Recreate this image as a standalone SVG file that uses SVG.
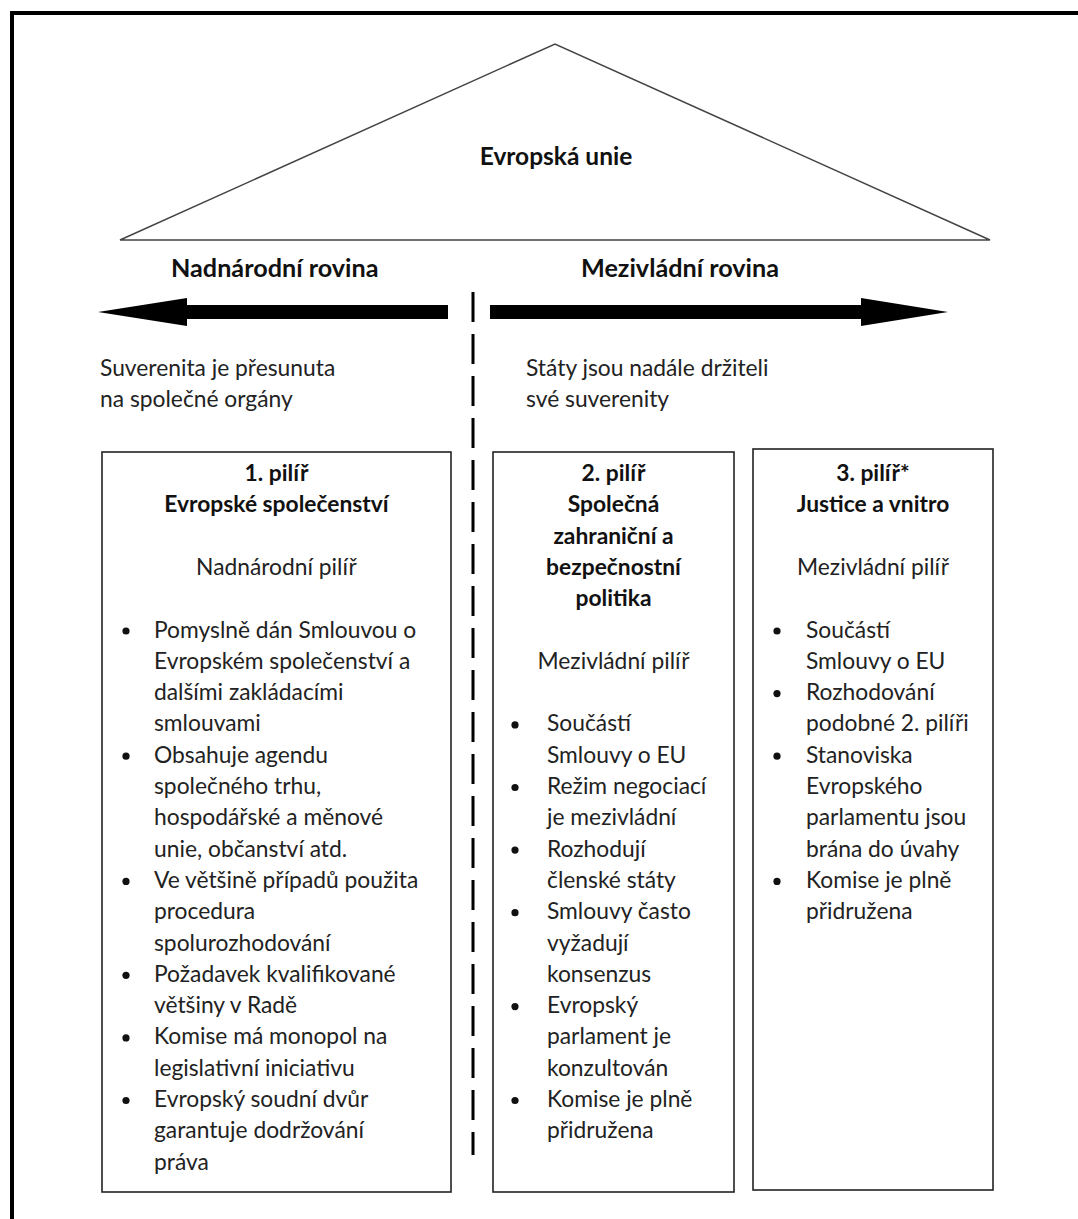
<svg xmlns="http://www.w3.org/2000/svg" width="1078" height="1219" viewBox="0 0 1078 1219">
<style>
.body{font-family:Lato,"Liberation Sans",sans-serif;font-size:22.8px;fill:#222}
.bold{font-family:Lato,"Liberation Sans",sans-serif;font-size:22.8px;font-weight:bold;fill:#111}
.lbl{font-family:Lato,"Liberation Sans",sans-serif;font-size:25.2px;font-weight:bold;fill:#111}
.lbl2{font-family:Lato,"Liberation Sans",sans-serif;font-size:24.5px;font-weight:bold;fill:#111}
.c{text-anchor:middle}
.box{fill:#fff;stroke:#222;stroke-width:1.6}
.bul{fill:#111}
</style>
<rect x="0" y="0" width="1078" height="1219" fill="#fff"/>
<rect x="12" y="13" width="1090" height="1240" fill="none" stroke="#000" stroke-width="4"/>

<g id="eu">
<polygon points="120,240 555,44 990,240" fill="#fff" stroke="#444" stroke-width="1.5"/>
<text class="lbl2 c" x="556" y="165">Evropská unie</text>
</g>

<g id="levels">
<text class="lbl" x="171" y="277">Nadnárodní rovina</text>
<text class="lbl" x="581" y="277">Mezivládní rovina</text>
<text class="body" x="100" y="376">Suverenita je přesunuta</text>
<text class="body" x="100" y="407">na společné orgány</text>
<text class="body" x="526" y="376">Státy jsou nadále držiteli</text>
<text class="body" x="526" y="407">své suverenity</text>
</g>

<g id="connectors">
<polygon points="98,312 187,298 187,305 448,305 448,319 187,319 187,326" fill="#000"/>
<polygon points="948,312 861,298 861,305 490,305 490,319 861,319 861,326" fill="#000"/>
<line x1="473" y1="292" x2="473" y2="1155" stroke="#000" stroke-width="3" stroke-dasharray="30 12"/>
</g>

<g id="pillar1">
<rect class="box" x="102" y="452" width="349" height="740"/>
<text class="bold c" x="276.5" y="481">1. pilíř</text>
<text class="bold c" x="276.5" y="512.3">Evropské společenství</text>
<text class="body c" x="276.5" y="574.9">Nadnárodní pilíř</text>
<g class="bul">
<circle cx="126" cy="631" r="3.6"/>
<circle cx="126" cy="756.2" r="3.6"/>
<circle cx="126" cy="881.4" r="3.6"/>
<circle cx="126" cy="975.3" r="3.6"/>
<circle cx="126" cy="1037.9" r="3.6"/>
<circle cx="126" cy="1100.5" r="3.6"/>
</g>
<text class="body" x="154" y="637.5">Pomyslně dán Smlouvou o</text>
<text class="body" x="154" y="668.8">Evropském společenství a</text>
<text class="body" x="154" y="700.1">dalšími zakládacími</text>
<text class="body" x="154" y="731.4">smlouvami</text>
<text class="body" x="154" y="762.7">Obsahuje agendu</text>
<text class="body" x="154" y="794">společného trhu,</text>
<text class="body" x="154" y="825.3">hospodářské a měnové</text>
<text class="body" x="154" y="856.6">unie, občanství atd.</text>
<text class="body" x="154" y="887.9">Ve většině případů použita</text>
<text class="body" x="154" y="919.2">procedura</text>
<text class="body" x="154" y="950.5">spolurozhodování</text>
<text class="body" x="154" y="981.8">Požadavek kvalifikované</text>
<text class="body" x="154" y="1013.1">většiny v Radě</text>
<text class="body" x="154" y="1044.4">Komise má monopol na</text>
<text class="body" x="154" y="1075.7">legislativní iniciativu</text>
<text class="body" x="154" y="1107">Evropský soudní dvůr</text>
<text class="body" x="154" y="1138.3">garantuje dodržování</text>
<text class="body" x="154" y="1169.6">práva</text>
</g>

<g id="pillar2">
<rect class="box" x="493" y="452" width="241" height="740"/>
<text class="bold c" x="613.5" y="481">2. pilíř</text>
<text class="bold c" x="613.5" y="512.3">Společná</text>
<text class="bold c" x="613.5" y="543.6">zahraniční a</text>
<text class="bold c" x="613.5" y="574.9">bezpečnostní</text>
<text class="bold c" x="613.5" y="606.2">politika</text>
<text class="body c" x="613.5" y="668.8">Mezivládní pilíř</text>
<g class="bul">
<circle cx="515" cy="724.9" r="3.6"/>
<circle cx="515" cy="787.5" r="3.6"/>
<circle cx="515" cy="850.1" r="3.6"/>
<circle cx="515" cy="912.7" r="3.6"/>
<circle cx="515" cy="1006.6" r="3.6"/>
<circle cx="515" cy="1100.5" r="3.6"/>
</g>
<text class="body" x="547" y="731.4">Součástí</text>
<text class="body" x="547" y="762.7">Smlouvy o EU</text>
<text class="body" x="547" y="794">Režim negociací</text>
<text class="body" x="547" y="825.3">je mezivládní</text>
<text class="body" x="547" y="856.6">Rozhodují</text>
<text class="body" x="547" y="887.9">členské státy</text>
<text class="body" x="547" y="919.2">Smlouvy často</text>
<text class="body" x="547" y="950.5">vyžadují</text>
<text class="body" x="547" y="981.8">konsenzus</text>
<text class="body" x="547" y="1013.1">Evropský</text>
<text class="body" x="547" y="1044.4">parlament je</text>
<text class="body" x="547" y="1075.7">konzultován</text>
<text class="body" x="547" y="1107">Komise je plně</text>
<text class="body" x="547" y="1138.3">přidružena</text>
</g>

<g id="pillar3">
<rect class="box" x="753" y="449" width="240" height="741"/>
<text class="bold c" x="873" y="481">3. pilíř*</text>
<text class="bold c" x="873" y="512.3">Justice a vnitro</text>
<text class="body c" x="873" y="574.9">Mezivládní pilíř</text>
<g class="bul">
<circle cx="777" cy="631" r="3.6"/>
<circle cx="777" cy="693.6" r="3.6"/>
<circle cx="777" cy="756.2" r="3.6"/>
<circle cx="777" cy="881.4" r="3.6"/>
</g>
<text class="body" x="806" y="637.5">Součástí</text>
<text class="body" x="806" y="668.8">Smlouvy o EU</text>
<text class="body" x="806" y="700.1">Rozhodování</text>
<text class="body" x="806" y="731.4">podobné 2. pilíři</text>
<text class="body" x="806" y="762.7">Stanoviska</text>
<text class="body" x="806" y="794">Evropského</text>
<text class="body" x="806" y="825.3">parlamentu jsou</text>
<text class="body" x="806" y="856.6">brána do úvahy</text>
<text class="body" x="806" y="887.9">Komise je plně</text>
<text class="body" x="806" y="919.2">přidružena</text>
</g>
</svg>
